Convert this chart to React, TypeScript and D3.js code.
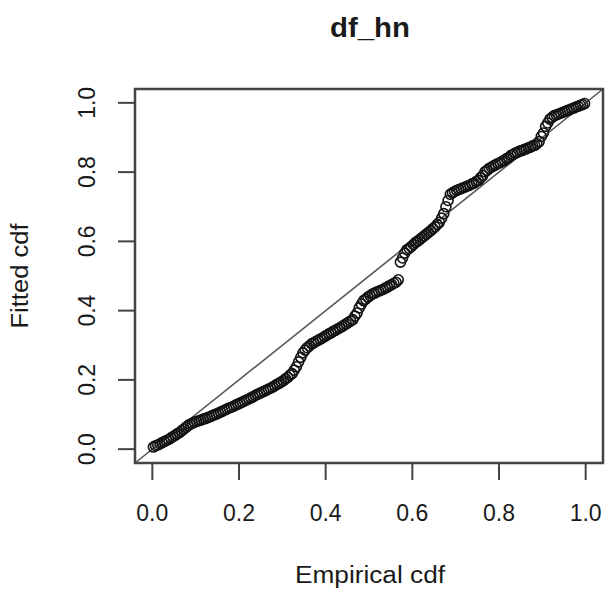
import React from "react";
import * as d3 from "d3";

const title = "df_hn";
const xLabel = "Empirical cdf";
const yLabel = "Fitted cdf";
const tickValues = [0, 0.2, 0.4, 0.6, 0.8, 1.0];

// empirical cdf values (x)
const empirical = [
  0.0025, 0.0075, 0.0125, 0.0175, 0.0225, 0.0275, 0.0325, 0.0375, 0.0425, 0.0475,
  0.0525, 0.0575, 0.0625, 0.0675, 0.0725, 0.0775, 0.0825, 0.0875, 0.0925, 0.0975,
  0.1025, 0.1075, 0.1125, 0.1175, 0.1225, 0.1275, 0.1325, 0.1375, 0.1425, 0.1475,
  0.1525, 0.1575, 0.1625, 0.1675, 0.1725, 0.1775, 0.1825, 0.1875, 0.1925, 0.1975,
  0.2025, 0.2075, 0.2125, 0.2175, 0.2225, 0.2275, 0.2325, 0.2375, 0.2425, 0.2475,
  0.2525, 0.2575, 0.2625, 0.2675, 0.2725, 0.2775, 0.2825, 0.2875, 0.2925, 0.2975,
  0.3025, 0.3075, 0.3125, 0.3175, 0.3225, 0.3275, 0.3325, 0.3375, 0.3425, 0.3475,
  0.3525, 0.3575, 0.3625, 0.3675, 0.3725, 0.3775, 0.3825, 0.3875, 0.3925, 0.3975,
  0.4025, 0.4075, 0.4125, 0.4175, 0.4225, 0.4275, 0.4325, 0.4375, 0.4425, 0.4475,
  0.4525, 0.4575, 0.4625, 0.4675, 0.4725, 0.4775, 0.4825, 0.4875, 0.4925, 0.4975,
  0.5025, 0.5075, 0.5125, 0.5175, 0.5225, 0.5275, 0.5325, 0.5375, 0.5425, 0.5475,
  0.5525, 0.5575, 0.5625, 0.5675, 0.5725, 0.5775, 0.5825, 0.5875, 0.5925, 0.5975,
  0.6025, 0.6075, 0.6125, 0.6175, 0.6225, 0.6275, 0.6325, 0.6375, 0.6425, 0.6475,
  0.6525, 0.6575, 0.6625, 0.6675, 0.6725, 0.6775, 0.6825, 0.6875, 0.6925, 0.6975,
  0.7025, 0.7075, 0.7125, 0.7175, 0.7225, 0.7275, 0.7325, 0.7375, 0.7425, 0.7475,
  0.7525, 0.7575, 0.7625, 0.7675, 0.7725, 0.7775, 0.7825, 0.7875, 0.7925, 0.7975,
  0.8025, 0.8075, 0.8125, 0.8175, 0.8225, 0.8275, 0.8325, 0.8375, 0.8425, 0.8475,
  0.8525, 0.8575, 0.8625, 0.8675, 0.8725, 0.8775, 0.8825, 0.8875, 0.8925, 0.8975,
  0.9025, 0.9075, 0.9125, 0.9175, 0.9225, 0.9275, 0.9325, 0.9375, 0.9425, 0.9475,
  0.9525, 0.9575, 0.9625, 0.9675, 0.9725, 0.9775, 0.9825, 0.9875, 0.9925, 0.9975,
];

// fitted cdf values (y)
const fitted = [
  0.006, 0.010, 0.012, 0.015, 0.019, 0.022, 0.025, 0.028, 0.032, 0.036,
  0.040, 0.044, 0.048, 0.053, 0.058, 0.063, 0.068, 0.072, 0.075, 0.078,
  0.080, 0.082, 0.084, 0.087, 0.088, 0.091, 0.093, 0.096, 0.099, 0.101,
  0.104, 0.107, 0.110, 0.113, 0.116, 0.119, 0.121, 0.124, 0.127, 0.130,
  0.133, 0.136, 0.139, 0.142, 0.145, 0.148, 0.151, 0.155, 0.158, 0.161,
  0.164, 0.167, 0.170, 0.173, 0.176, 0.179, 0.183, 0.187, 0.190, 0.194,
  0.198, 0.203, 0.207, 0.214, 0.218, 0.228, 0.238, 0.252, 0.265, 0.278,
  0.286, 0.293, 0.298, 0.304, 0.307, 0.311, 0.314, 0.318, 0.321, 0.325,
  0.329, 0.333, 0.336, 0.340, 0.343, 0.347, 0.350, 0.354, 0.358, 0.362,
  0.366, 0.370, 0.374, 0.384, 0.393, 0.408, 0.419, 0.429, 0.433, 0.439,
  0.443, 0.448, 0.450, 0.454, 0.456, 0.459, 0.461, 0.465, 0.468, 0.472,
  0.475, 0.479, 0.482, 0.489, 0.540, 0.552, 0.566, 0.576, 0.580, 0.585,
  0.591, 0.597, 0.601, 0.606, 0.611, 0.616, 0.621, 0.626, 0.631, 0.637,
  0.642, 0.649, 0.655, 0.667, 0.680, 0.700, 0.718, 0.736, 0.740, 0.744,
  0.747, 0.750, 0.752, 0.755, 0.757, 0.760, 0.762, 0.766, 0.768, 0.773,
  0.776, 0.784, 0.790, 0.801, 0.805, 0.811, 0.814, 0.818, 0.821, 0.825,
  0.827, 0.831, 0.834, 0.839, 0.842, 0.848, 0.851, 0.855, 0.857, 0.861,
  0.862, 0.865, 0.867, 0.870, 0.872, 0.876, 0.877, 0.882, 0.888, 0.903,
  0.913, 0.932, 0.942, 0.953, 0.958, 0.963, 0.965, 0.968, 0.970, 0.973,
  0.975, 0.978, 0.980, 0.983, 0.985, 0.988, 0.990, 0.993, 0.995, 0.998,
];

const W = 609;
const H = 594;
const font = "'Liberation Sans', Arial, Helvetica, sans-serif";

export default function App() {
  const x = d3.scaleLinear().domain([-0.04, 1.04]).range([135, 603]);
  const y = d3.scaleLinear().domain([-0.04, 1.04]).range([463, 89]);
  const [x0, x1] = x.range();
  const [y0, y1] = y.range();
  const points = d3.zip(empirical, fitted);
  const textColor = "#1a1a1a";
  const axisColor = "#444";

  return (
    <svg
      width={W}
      height={H}
      style={{ position: "absolute", left: 0, top: 0, background: "#fff" }}
      fontFamily={font}
    >
      <rect x={0} y={0} width={W} height={H} fill="#fff" />
      {/* title */}
      <text
        x={370}
        y={37}
        textAnchor="middle"
        fontSize={27}
        fontWeight="bold"
        fill={textColor}
        textLength={80}
        lengthAdjust="spacingAndGlyphs"
      >
        {title}
      </text>

      {/* diagonal reference line */}
      <line
        x1={x(-0.04)}
        y1={y(-0.04)}
        x2={x(1.04)}
        y2={y(1.04)}
        stroke="#555"
        strokeWidth={1.6}
      />

      {/* points */}
      {points.map(([px, py], i) => (
        <circle
          key={i}
          cx={x(px)}
          cy={y(py)}
          r={5}
          fill="none"
          stroke="#111"
          strokeWidth={1.6}
        />
      ))}

      {/* box */}
      <rect
        x={x0}
        y={y1}
        width={x1 - x0}
        height={y0 - y1}
        fill="none"
        stroke={axisColor}
        strokeWidth={2.5}
      />

      {/* x axis */}
      <line x1={x(0)} x2={x(1)} y1={y0} y2={y0} stroke={axisColor} strokeWidth={2} />
      {tickValues.map((t) => (
        <g key={"xt" + t}>
          <line x1={x(t)} x2={x(t)} y1={y0} y2={y0 + 17} stroke={axisColor} strokeWidth={2} />
          <text
            x={x(t)}
            y={521}
            textAnchor="middle"
            fontSize={23}
            fill={textColor}
          >
            {d3.format(".1f")(t)}
          </text>
        </g>
      ))}

      {/* y axis */}
      <line x1={x0} x2={x0} y1={y(0)} y2={y(1)} stroke={axisColor} strokeWidth={2} />
      {tickValues.map((t) => (
        <g key={"yt" + t}>
          <line x1={x0} x2={x0 - 17} y1={y(t)} y2={y(t)} stroke={axisColor} strokeWidth={2} />
          <text
            transform={`translate(95, ${y(t)}) rotate(-90)`}
            textAnchor="middle"
            fontSize={23}
            fill={textColor}
          >
            {d3.format(".1f")(t)}
          </text>
        </g>
      ))}

      {/* axis titles */}
      <text
        x={370}
        y={583}
        textAnchor="middle"
        fontSize={23}
        fill={textColor}
        textLength={150}
        lengthAdjust="spacingAndGlyphs"
      >
        {xLabel}
      </text>
      <text
        transform={`translate(28, 276) rotate(-90)`}
        textAnchor="middle"
        fontSize={23}
        fill={textColor}
        textLength={105}
        lengthAdjust="spacingAndGlyphs"
      >
        {yLabel}
      </text>
    </svg>
  );
}
